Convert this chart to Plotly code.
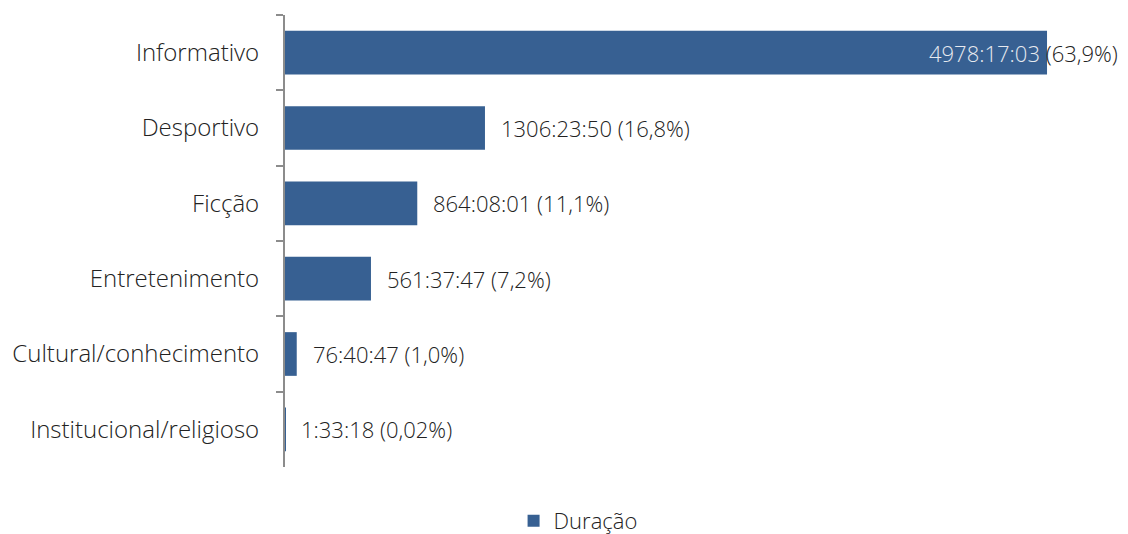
import plotly.graph_objects as go

categories = ["Informativo", "Desportivo", "Ficção", "Entretenimento",
              "Cultural/conhecimento", "Institucional/religioso"]
durations = ["4978:17:03", "1306:23:50", "864:08:01", "561:37:47", "76:40:47", "1:33:18"]
percents = ["(63,9%)", "(16,8%)", "(11,1%)", "(7,2%)", "(1,0%)", "(0,02%)"]


def to_hours(s):
    h, m, sec = (int(p) for p in s.split(":"))
    return h + m / 60 + sec / 3600


hours = [to_hours(d) for d in durations]

BAR = "#376092"
FONT = "Open Sans"
TXT = "#222222"

fig = go.Figure()
fig.add_trace(go.Bar(
    y=categories, x=hours, orientation="h", name="Duração",
    marker=dict(color=BAR, line=dict(width=0)),
    hoverinfo="skip",
))

annotations = []
for i, (c, v, d, p) in enumerate(zip(categories, hours, durations, percents)):
    if i == 0:
        annotations.append(dict(
            x=v, y=c, xref="x", yref="y", xanchor="right", xshift=73,
            text=f"<span style='color:#e6e9ef'>{d}</span> {p}",
            showarrow=False, font=dict(family=FONT, size=22, color=TXT, weight=300),
        ))
    else:
        annotations.append(dict(
            x=v, y=c, xref="x", yref="y", xanchor="left", xshift=14,
            text=f"{d} {p}",
            showarrow=False, font=dict(family=FONT, size=22, color=TXT, weight=300),
        ))

fig.update_layout(
    width=1120, height=526,
    margin=dict(l=277, r=8, t=7, b=67),
    paper_bgcolor="white", plot_bgcolor="white",
    bargap=0.42,
    font=dict(family=FONT, size=24, color=TXT, weight=300),
    xaxis=dict(range=[0, 5455], visible=False, fixedrange=True, automargin=False),
    yaxis=dict(
        categoryorder="array", categoryarray=categories, autorange="reversed",
        showline=True, linecolor="#8c8c8c", linewidth=2,
        ticks="outside", ticklen=7, tickcolor="#8c8c8c", tickwidth=2,
        tickson="boundaries", showgrid=False, zeroline=False,
        ticklabelstandoff=19, automargin=False,
        tickfont=dict(family=FONT, size=24, color=TXT, weight=300),
    ),
    showlegend=True,
    legend=dict(
        orientation="h", xref="container", yref="container",
        x=0.509, y=0.025, xanchor="center", yanchor="middle",
        font=dict(family=FONT, size=22, color=TXT, weight=300),
        itemwidth=30,
    ),
    annotations=annotations,
)

fig.write_html("out.html")
